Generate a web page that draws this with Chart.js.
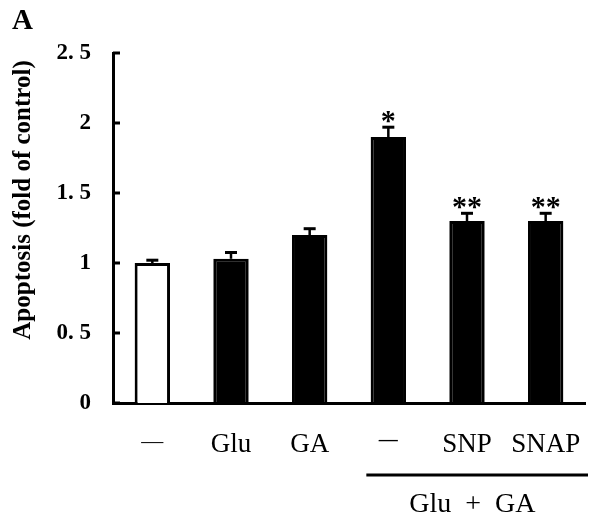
<!DOCTYPE html>
<html><head><meta charset="utf-8">
<script src="https://cdn.jsdelivr.net/npm/chart.js@4.4.1/dist/chart.umd.min.js"></script>
<style>html,body{margin:0;padding:0;background:#fff}#wrap{width:595px;height:521px;position:relative}</style>
</head><body><div id="wrap"><canvas id="c" width="595" height="521"></canvas></div>
<script>
const categories = ['—', 'Glu', 'GA', '—', 'SNP', 'SNAP'];
const values = [1.0, 1.03, 1.2, 1.9, 1.3, 1.3];
const errors = [0.02, 0.045, 0.045, 0.07, 0.055, 0.055];
const stars = ['', '', '', '*', '**', '**'];
const yTickLabels = ['0', '0. 5', '1', '1. 5', '2', '2. 5'];
const yTickValues = [0, 0.5, 1, 1.5, 2, 2.5];
const groupLabel = 'Glu  +  GA';
const groupStart = 3;
const panelLabel = 'A';
const yTitle = 'Apoptosis (fold of control)';
const fillColors = ['#ffffff', '#000000', '#000000', '#000000', '#000000', '#000000'];

const serif = '"Liberation Serif", "DejaVu Serif", serif';

const extras = {
  id: 'extras',
  afterDatasetsDraw(chart) {
    const ctx = chart.ctx;
    const y = chart.scales.y;
    const ca = chart.chartArea;
    ctx.save();
    ctx.strokeStyle = '#000';
    ctx.fillStyle = '#000';
    // inward ticks
    ctx.lineWidth = 3;
    yTickValues.forEach(v => {
      const py = y.getPixelForValue(v);
      ctx.beginPath(); ctx.moveTo(ca.left, py); ctx.lineTo(ca.left + 7, py); ctx.stroke();
    });
    // error bars
    const meta = chart.getDatasetMeta(0);
    values.forEach((v, i) => {
      const bar = meta.data[i];
      const cx = bar.x;
      const top = y.getPixelForValue(v);
      const et = y.getPixelForValue(v + errors[i]);
      ctx.lineWidth = 2.5;
      ctx.beginPath(); ctx.moveTo(cx, top); ctx.lineTo(cx, et); ctx.stroke();
      ctx.lineWidth = 3;
      ctx.beginPath(); ctx.moveTo(cx - 6, et); ctx.lineTo(cx + 6, et); ctx.stroke();
      if (stars[i]) {
        ctx.font = 'bold 30px ' + serif;
        ctx.textAlign = 'center';
        ctx.textBaseline = 'middle';
        ctx.fillText(stars[i], cx, et - 5);
      }
    });
    // group line
    const x0 = meta.data[groupStart].x - 22;
    const x1 = ca.right + 3;
    ctx.lineWidth = 3;
    ctx.beginPath(); ctx.moveTo(x0, ca.bottom + 72); ctx.lineTo(x1, ca.bottom + 72); ctx.stroke();
    ctx.font = '28px ' + serif;
    ctx.textAlign = 'center';
    ctx.textBaseline = 'middle';
    ctx.fillText(groupLabel, (meta.data[4].x + meta.data[5].x) / 2 - 34, ca.bottom + 102);
    // y title
    ctx.save();
    ctx.translate(24, 200);
    ctx.rotate(-Math.PI / 2);
    ctx.font = 'bold 25px ' + serif;
    ctx.textAlign = 'center';
    ctx.textBaseline = 'middle';
    ctx.fillText(yTitle, 0, 0);
    ctx.restore();
    // panel label
    ctx.font = 'bold 29px ' + serif;
    ctx.textAlign = 'left';
    ctx.textBaseline = 'alphabetic';
    ctx.fillText(panelLabel, 12, 29);
    ctx.restore();
  }
};

new Chart(document.getElementById('c'), {
  type: 'bar',
  data: {
    labels: categories,
    datasets: [{
      data: values,
      backgroundColor: fillColors,
      borderColor: '#000',
      borderWidth: 3,
      borderSkipped: 'bottom',
      barPercentage: 0.45,
      categoryPercentage: 1.0
    }]
  },
  options: {
    responsive: false,
    animation: false,
    devicePixelRatio: 1,
    layout: { padding: { top: 53, right: 10, left: 0, bottom: 0 } },
    plugins: { legend: { display: false }, tooltip: { enabled: false } },
    scales: {
      x: {
        grid: { display: false, drawTicks: false },
        border: { display: true, color: '#000', width: 3 },
        ticks: {
          color: '#000', padding: 26, maxRotation: 0, autoSkip: false,
          font: (c) => ({
            family: serif,
            size: (categories[c.index] === '—') ? (c.index === groupStart ? 19 : 22) : 27,
            weight: (c.index === groupStart) ? 'bold' : 'normal'
          })
        },
        afterFit(s) { s.height = 118; s.paddingLeft = 0; s.paddingRight = 0; }
      },
      y: {
        min: 0, max: 2.5,
        grid: { display: false, drawTicks: false },
        border: { display: true, color: '#000', width: 3 },
        ticks: {
          stepSize: 0.5, color: '#000', padding: 22,
          font: { family: serif, size: 23, weight: 'bold' },
          callback: (v) => { const k = yTickValues.indexOf(v); return k >= 0 ? yTickLabels[k] : ''; }
        },
        afterFit(s) { s.width = 113; s.paddingTop = 0; s.paddingBottom = 0; }
      }
    }
  },
  plugins: [extras]
});
</script></body></html>
